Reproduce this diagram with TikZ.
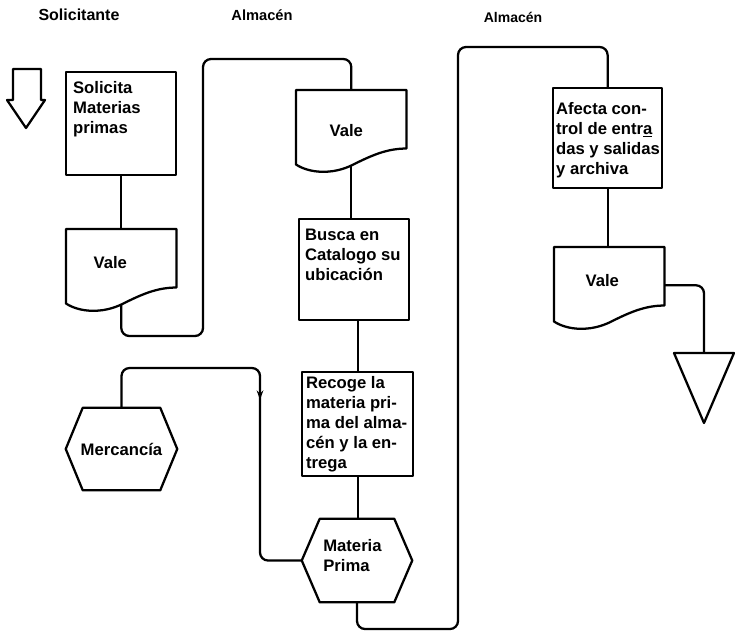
\documentclass[tikz,border=0pt]{standalone}
\usepackage{fontspec}
\setmainfont{Liberation Sans}
\usetikzlibrary{arrows.meta,decorations.markings}

% text block of a process box: width, height, top pad, left pad, text
\newcommand\boxbody[5]{\parbox[t][#2][t]{#1}{\raggedright\leftskip=#4\relax\vspace*{#3}#5}}
% text shifted inside a node without changing the node size
\newcommand\doctxt[3]{\raisebox{#2}[\height][\depth]{\hspace*{#1}#3\hspace*{-#1}}}
% document symbol drawn on the bounds of a node (wavy lower edge)
\newcommand\docoutline[1]{\draw[flow] (#1.north west) -- (#1.north east) -- (#1.south east)
  .. controls +(-20,0) and +(20,-10) .. ([shift={(0,17)}]#1.south)
  .. controls +(-19,9) and +(14,9) .. ([shift={(0,16)}]#1.south west) -- cycle;}
% hexagon drawn on the bounds of a node
\newcommand\hexoutline[2]{\draw[flow] (#1.west) -- ([shift={(#2,0)}]#1.north west)
  -- ([shift={(-#2,0)}]#1.north east) -- (#1.east) -- ([shift={(-#2,0)}]#1.south east)
  -- ([shift={(#2,0)}]#1.south west) -- cycle;}

\tikzset{
  flow/.style={line width=1.7pt, line join=round},
  link/.style={flow, rounded corners=6pt},
  txt/.style={font=\fontsize{12.5}{15}\selectfont\bfseries},
  header/.style={font=\fontsize{11}{13}\selectfont\bfseries},
  procbox/.style={draw, flow, txt, anchor=north west, inner sep=0pt},
  docnode/.style={txt, anchor=north west, inner sep=0pt, minimum width=82.5pt, minimum height=43.5pt},
  hexnode/.style={txt, inner sep=0pt},
}

\begin{document}
\begin{tikzpicture}[x=0.75pt,y=-0.75pt]
\useasboundingbox[fill=white] (0,0) rectangle (735,632);

% column headings
\node[header, font=\fontsize{12}{14}\selectfont\bfseries] (hsol) at (79,15) {Solicitante};
\node[header] (halm1) at (262,15) {Almacén};
\node[header, font=\fontsize{10.5}{13}\selectfont\bfseries] (halm2) at (513,17) {Almacén};

% start symbol
\draw[flow] (13,69) -- (41,69) -- (41,100) -- (45,100) -- (26,128) -- (7,100) -- (13,100) -- cycle;

% process boxes
\node[procbox] (b1) at (65,71) {\boxbody{82.5pt}{77.25pt}{6.75pt}{5.25pt}{Solicita\\Materias\\primas}};
\node[procbox] (b2) at (298,218) {\boxbody{82.5pt}{75.75pt}{7.5pt}{4.5pt}{Busca en\\Catalogo su\\ubicación}};
\node[procbox] (b3) at (301,371) {\boxbody{83.25pt}{78pt}{3pt}{3pt}{Recoge la\\materia pri-\\ma del alma-\\cén y la en-\\trega}};
\node[procbox] (b4) at (552,87) {\boxbody{81.75pt}{75pt}{10.5pt}{2.25pt}{Afecta con-\\trol de entr\underline{a}\\das y salidas\\y archiva}};

% documents
\node[docnode] (d1) at (66,229) {\doctxt{-8.25pt}{-3pt}{Vale}};
\node[docnode] (d2) at (296,90) {\doctxt{-3.75pt}{-8.25pt}{Vale}};
\node[docnode] (d3) at (554,247) {\doctxt{-5.25pt}{-3pt}{Vale}};
\docoutline{d1}
\docoutline{d2}
\docoutline{d3}
\coordinate (d1b) at ([shift={(0,17)}]d1.south);
\coordinate (d2b) at ([shift={(0,17)}]d2.south);

% hexagons
\node[hexnode, minimum width=83.25pt, minimum height=61.5pt] (hx1) at (121.5,449) {Mercancía};
\node[hexnode, minimum width=82.5pt, minimum height=62.25pt] (hx2) at (357,560.5)
  {\doctxt{-3.4pt}{2.6pt}{\begin{tabular}{@{}l@{}}Materia\\Prima\end{tabular}}};
\hexoutline{hx1}{17}
\hexoutline{hx2}{18}

% end symbol
\coordinate (tri) at (704,353);
\draw[flow] (674,353) -- (734,353) -- (704,423) -- cycle;

% connectors
\draw[flow] (b1.south) -- (b1.south |- d1.north);
\draw[link] (d1b) |- (203,336) -- (203,59) -| (d2.north);
\draw[flow] (d2b) -- (d2b |- b2.north);
\draw[flow] (b3.north |- b2.south) -- (b3.north);
\draw[flow] (b3.south) -- (b3.south |- hx2.north);
\draw[link, postaction={decorate}, decoration={markings,
    mark=at position 0.505 with {\arrow{Stealth[length=7pt,width=5pt]}}}]
  (hx1.north) |- (260,368) |- (hx2.west);
\draw[link] (hx2.south) |- (458,629) -- (458,47) -| (b4.north);
\draw[flow] (b4.south) -- (b4.south |- d3.north);
\draw[link] ([shift={(0,9)}]d3.east) -| (tri);
\end{tikzpicture}
\end{document}
